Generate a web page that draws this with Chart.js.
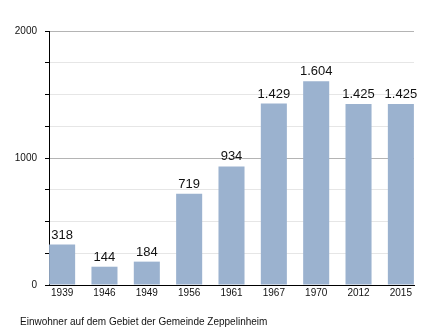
<!DOCTYPE html>
<html>
<head>
<meta charset="utf-8">
<script src="https://cdn.jsdelivr.net/npm/chart.js@4/dist/chart.umd.min.js"></script>
<style>
  html, body { margin: 0; padding: 0; background: #fff; }
  #wrap { width: 444px; height: 333px; }
</style>
</head>
<body>
<div id="wrap"><canvas id="einwohnerChart"></canvas></div>
<script>
// Einwohnerzahlen Zeppelinheim
const jahre = ['1939', '1946', '1949', '1956', '1961', '1967', '1970', '2012', '2015'];
const einwohner = [318, 144, 184, 719, 934, 1429, 1604, 1425, 1425];
const yTicks = [0, 1000, 2000];
const unterschrift = 'Einwohner auf dem Gebiet der Gemeinde Zeppelinheim';

const schrift = '"Liberation Sans", Arial, sans-serif';
const fmt = v => v.toLocaleString('de-DE');

// Zahlen über die Balken schreiben
const wertLabels = {
    id: 'wertLabels',
    afterDatasetsDraw(chart) {
        const ctx = chart.ctx;
        const meta = chart.getDatasetMeta(0);
        ctx.save();
        ctx.font = '13px ' + schrift;
        ctx.fillStyle = '#111';
        ctx.textAlign = 'center';
        ctx.textBaseline = 'bottom';
        meta.data.forEach((bar, i) => {
            ctx.fillText(fmt(einwohner[i]), bar.x, bar.y - 3);
        });
        ctx.restore();
    }
};

// Bildunterschrift unten links
const bildunterschrift = {
    id: 'bildunterschrift',
    afterDraw(chart) {
        const ctx = chart.ctx;
        ctx.save();
        ctx.font = '10px ' + schrift;
        ctx.fillStyle = '#111';
        ctx.textAlign = 'left';
        ctx.textBaseline = 'middle';
        ctx.fillText(unterschrift, 20, chart.height - 11);
        ctx.restore();
    }
};

new Chart(document.getElementById('einwohnerChart'), {
    type: 'bar',
    data: {
        datasets: [{
            data: einwohner.map((v, i) => ({ x: i, y: v })),
            backgroundColor: '#9bb2cf',
            borderWidth: 0,
            barPercentage: 0.615,
            categoryPercentage: 1
        }]
    },
    options: {
        responsive: true,
        maintainAspectRatio: false,
        animation: false,
        layout: { padding: { top: 31, right: 30, bottom: 32, left: 0 } },
        plugins: {
            legend: { display: false },
            tooltip: { enabled: false }
        },
        scales: {
            x: {
                type: 'linear',
                offset: false,
                min: -0.31,
                max: 8.31,
                afterBuildTicks: axis => { axis.ticks = jahre.map((_, i) => ({ value: i })); },
                ticks: {
                    callback: v => jahre[v],
                    color: '#111',
                    padding: 2,
                    font: { family: schrift, size: 10 }
                },
                grid: { display: false, drawTicks: false, offset: false },
                border: { display: true, color: '#000', width: 1 }
            },
            y: {
                min: 0,
                max: 2000,
                afterBuildTicks: axis => {
                    const t = [];
                    for (let v = 0; v <= 2000; v += 250) t.push({ value: v });
                    axis.ticks = t;
                },
                afterFit: scale => { scale.width = 49; },
                ticks: {
                    callback: v => (yTicks.includes(v) ? v : ''),
                    color: '#111',
                    padding: 8,
                    font: { family: schrift, size: 10 }
                },
                grid: {
                    color: c => (c.tick && c.tick.value % 1000 === 0 ? '#b4b4b4' : '#e6e6e6'),
                    tickColor: '#000',
                    tickLength: 4
                },
                border: { display: true, color: '#000', width: 1 }
            }
        }
    },
    plugins: [wertLabels, bildunterschrift]
});
</script>
</body>
</html>
